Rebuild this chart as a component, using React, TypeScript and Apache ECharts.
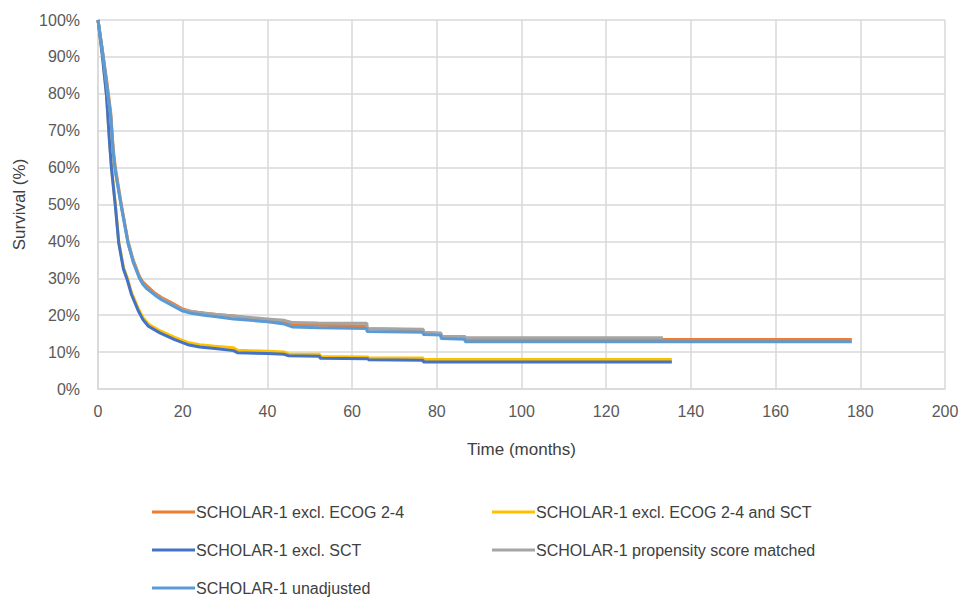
import React, { useEffect, useRef } from "react";
import * as echarts from "echarts";

const seriesNames = [
  "SCHOLAR-1 excl. ECOG 2-4",
  "SCHOLAR-1 excl. ECOG 2-4 and SCT",
  "SCHOLAR-1 excl. SCT",
  "SCHOLAR-1 propensity score matched",
  "SCHOLAR-1 unadjusted",
];
const seriesColors = ["#ED7D31", "#FFC000", "#4472C4", "#A5A5A5", "#5B9BD5"];

const exclEcog: [number, number][] = [
  [0, 100], [1, 92], [2, 84], [3, 75], [3.6, 65], [4.1, 60], [5.5, 50], [7.1, 40], [8.3, 35], [9.8, 30.5],
  [10.6, 29], [11.5, 28], [13.4, 26], [15, 24.8], [17.3, 23.4], [19.8, 21.8], [22, 21], [25, 20.6], [28, 20.2],
  [32, 19.8], [36, 19.2], [40, 18.6], [44, 18.2], [46, 17.5], [52, 17.3], [63.5, 17.1], [63.5, 16.3],
  [76.8, 16.0], [76.8, 15.3], [81, 15.0], [81, 14.2], [86.7, 14.0], [86.7, 13.4], [178, 13.4],
];
const exclEcogSct: [number, number][] = [
  [0, 100], [1, 91], [2, 80], [2.8, 66], [3.2, 60], [4.1, 50], [4.9, 40], [6.0, 33], [6.9, 30.2],
  [7.9, 26.2], [9.5, 21.8], [10.6, 19.4], [11.9, 17.6], [14.6, 15.8], [18.1, 14], [21.2, 12.6], [24, 12], [27.6, 11.6],
  [32, 11.2], [33, 10.5], [40, 10.2], [44, 10], [45, 9.5], [52.4, 9.4], [52.4, 8.8], [63.8, 8.7],
  [63.8, 8.5], [76.8, 8.4], [76.8, 8.0], [135.5, 8.0],
];
const exclSct: [number, number][] = [
  [0, 100], [1, 90.5], [2, 79.5], [2.8, 65.5], [3.2, 59.5], [4.1, 49.5], [4.9, 39.5], [6.0, 32.5],
  [6.9, 29.6], [7.9, 25.6], [9.5, 21.2], [10.6, 18.8], [11.9, 17.0], [14.6, 15.2], [18.1, 13.4], [21.2, 12],
  [24, 11.4], [27.6, 11], [32, 10.4], [33, 9.8], [40, 9.6], [44, 9.4], [45, 9.0], [52.4, 8.9],
  [52.4, 8.3], [63.8, 8.2], [63.8, 7.9], [76.8, 7.8], [76.8, 7.3], [135.5, 7.3],
];
const propensity: [number, number][] = [
  [0, 100], [1, 92], [2, 83], [3, 74], [3.6, 64], [4.1, 59], [5.5, 49.5], [7.1, 39.5], [8.3, 34.5],
  [9.8, 30], [10.6, 28.5], [11.5, 27.3], [13.4, 25.6], [15, 24.4], [17.3, 23], [19.8, 21.5], [22, 21], [25, 20.5],
  [28, 20.2], [32, 19.8], [36, 19.4], [40, 19], [44, 18.6], [46, 18.0], [52, 17.9], [63.5, 17.8],
  [63.5, 16.4], [76.8, 16.2], [76.8, 15.4], [81, 15.2], [81, 14.3], [86.7, 14.2], [86.7, 13.9],
  [133.4, 13.9],
];
const unadjusted: [number, number][] = [
  [0, 100], [1, 92], [2, 83], [3, 74], [3.6, 64], [4.1, 59], [5.5, 49.5], [7.1, 39.5], [8.3, 34.5],
  [9.8, 30], [10.6, 28.4], [11.5, 27.2], [13.4, 25.5], [15, 24.2], [17.3, 22.8], [19.8, 21.2], [22, 20.5], [25, 20],
  [28, 19.6], [32, 19], [36, 18.6], [40, 18.2], [44, 17.6], [46, 16.8], [52, 16.6], [63.5, 16.4],
  [63.5, 15.6], [76.8, 15.4], [76.8, 14.8], [81, 14.6], [81, 13.7], [86.7, 13.5], [86.7, 12.8],
  [178, 12.8],
];
const seriesData = [exclEcog, exclEcogSct, exclSct, propensity, unadjusted];

const legendPos = [
  { left: 147, top: 499 },
  { left: 487, top: 499 },
  { left: 147, top: 537 },
  { left: 487, top: 537 },
  { left: 147, top: 575 },
];

const FONT = "'Liberation Sans Narrow', 'Liberation Sans', sans-serif";

export default function App() {
  const ref = useRef<HTMLDivElement>(null);
  useEffect(() => {
    document.body.style.margin = "0";
    if (!ref.current) return;
    const chart = echarts.init(ref.current, undefined, { renderer: "svg" });
    chart.setOption({
      animation: false,
      backgroundColor: "#ffffff",
      grid: { left: 98, right: 22, top: 20, bottom: 224, containLabel: false },
      xAxis: {
        type: "value",
        min: 0,
        max: 200,
        interval: 20,
        name: "Time (months)",
        nameLocation: "middle",
        nameGap: 52,
        nameTextStyle: { fontSize: 17, color: "#404040", fontFamily: FONT },
        axisLine: { show: true, lineStyle: { color: "#d9d9d9", width: 1.5 } },
        axisTick: { show: false },
        axisLabel: { fontSize: 16, color: "#595959", fontFamily: FONT, margin: 14 },
        splitLine: { show: true, lineStyle: { color: "#d9d9d9", width: 1.5 } },
      },
      yAxis: {
        type: "value",
        min: 0,
        max: 100,
        interval: 10,
        name: "Survival (%)",
        nameLocation: "middle",
        nameGap: 70,
        nameTextStyle: { fontSize: 17, color: "#404040", fontFamily: FONT },
        axisLine: { show: true, lineStyle: { color: "#d9d9d9", width: 1.5 } },
        axisTick: { show: false },
        axisLabel: { fontSize: 16, color: "#595959", fontFamily: FONT, formatter: "{value}%", margin: 18 },
        splitLine: { show: true, lineStyle: { color: "#d9d9d9", width: 1.5 } },
      },
      legend: seriesNames.map((n, i) => ({
        data: [n],
        left: legendPos[i].left,
        top: legendPos[i].top,
        icon: "rect",
        itemWidth: 43,
        itemHeight: 3,
        itemGap: 0,
        textStyle: { fontSize: 16, color: "#404040", fontFamily: FONT, padding: [0, 0, 0, -4] },
      })),
      series: seriesNames.map((n, i) => ({
        name: n,
        type: "line",
        data: seriesData[i],
        showSymbol: false,
        symbol: "none",
        lineStyle: { color: seriesColors[i], width: 3 },
        itemStyle: { color: seriesColors[i] },
        z: 2 + i,
      })),
    });
    return () => chart.dispose();
  }, []);
  return <div ref={ref} style={{ width: 967, height: 613 }} />;
}
